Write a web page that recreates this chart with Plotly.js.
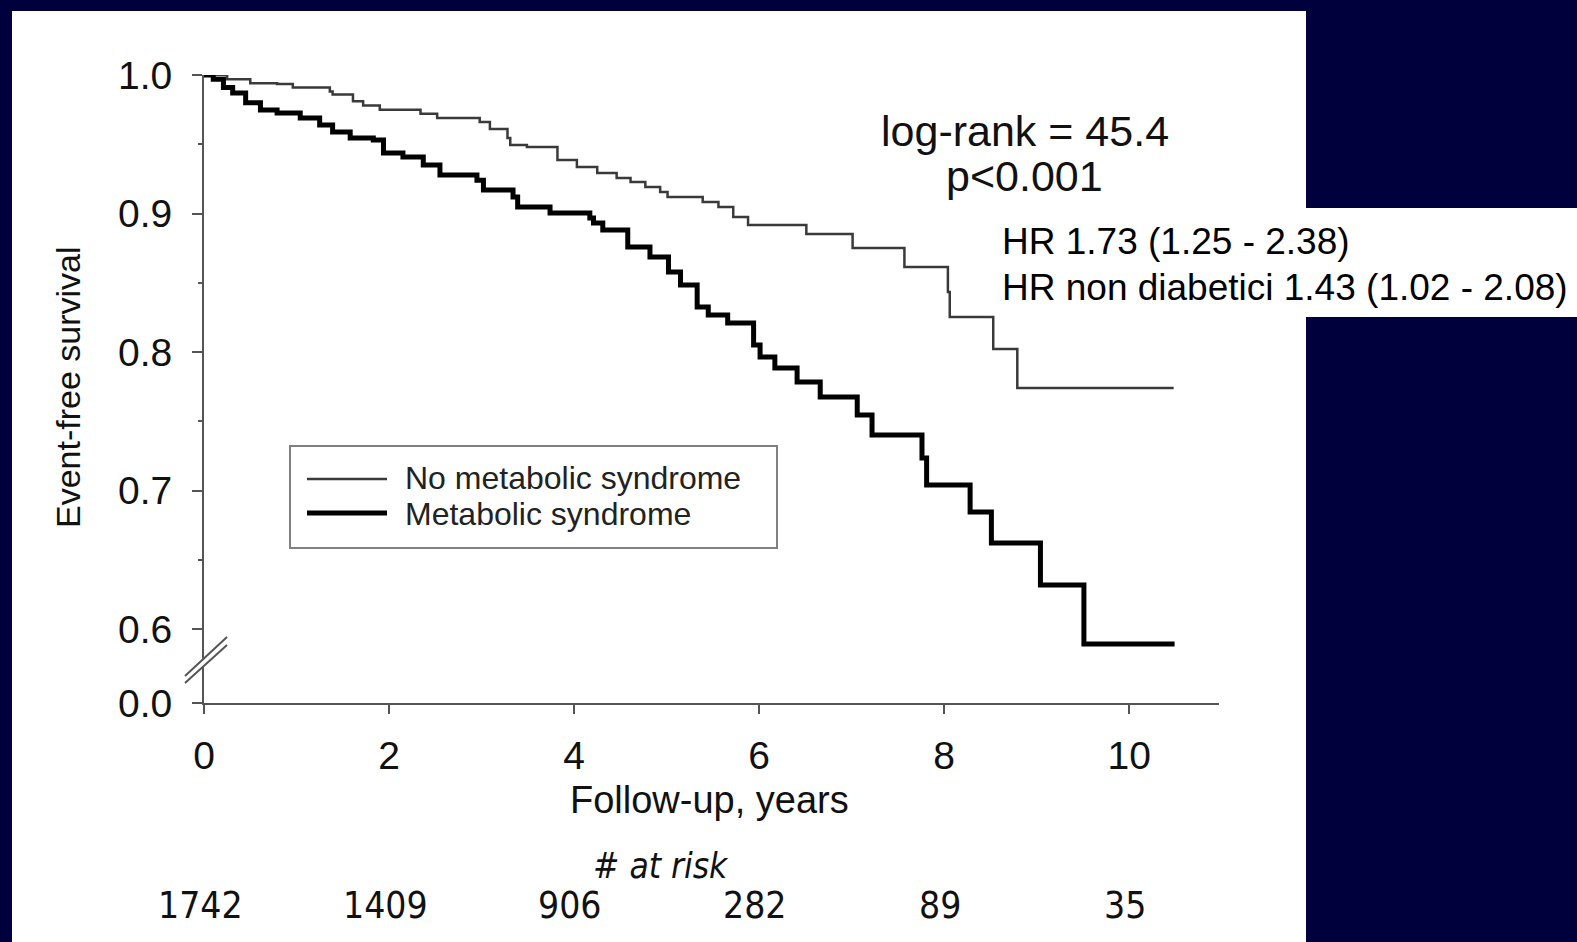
<!DOCTYPE html>
<html>
<head>
<meta charset="utf-8">
<script src="https://cdn.plot.ly/plotly-3.0.1.min.js"></script>
<style>
  html, body { margin: 0; padding: 0; background: #00003c; }
  #chart { width: 1577px; height: 942px; }
</style>
</head>
<body>
<div id="chart"></div>
<script>
// ---- data ----
const noMetsName = "No metabolic syndrome";
const noMetsTime = [0, 0.25, 0.50, 0.79, 0.96, 1.36, 1.39, 1.61, 1.72, 1.90, 2.34, 2.52, 2.98, 3.09, 3.28, 3.31, 3.49, 3.82, 4.03, 4.25, 4.46, 4.61, 4.77, 4.93, 5.01, 5.39, 5.56, 5.72, 5.88, 6.51, 7.01, 7.57, 8.04, 8.06, 8.53, 8.79, 10.48];
const noMetsSurv = [1.0, 0.997, 0.994, 0.9935, 0.991, 0.988, 0.986, 0.981, 0.978, 0.975, 0.972, 0.969, 0.966, 0.961, 0.9545, 0.9495, 0.948, 0.9386, 0.9336, 0.9292, 0.9256, 0.9227, 0.9191, 0.9155, 0.9119, 0.9083, 0.9047, 0.8975, 0.8917, 0.8852, 0.8751, 0.8614, 0.8433, 0.8253, 0.8022, 0.774, 0.774];

const metsName = "Metabolic syndrome";
const metsTime = [0, 0.1, 0.21, 0.31, 0.45, 0.61, 0.79, 1.04, 1.25, 1.39, 1.58, 1.83, 1.94, 2.15, 2.37, 2.55, 2.95, 3.02, 3.34, 3.39, 3.74, 4.17, 4.21, 4.31, 4.58, 4.82, 5.02, 5.15, 5.33, 5.45, 5.66, 5.94, 6.01, 6.17, 6.41, 6.66, 7.06, 7.22, 7.76, 7.81, 8.28, 8.51, 9.04, 9.51, 10.49];
const metsSurv = [1.0, 0.997, 0.991, 0.987, 0.980, 0.9747, 0.9726, 0.969, 0.9639, 0.9588, 0.9545, 0.953, 0.9437, 0.9408, 0.935, 0.9278, 0.924, 0.917, 0.912, 0.9047, 0.9004, 0.8967, 0.8931, 0.8881, 0.8758, 0.8686, 0.8578, 0.8484, 0.8325, 0.8267, 0.8209, 0.8051, 0.7964, 0.7884, 0.7783, 0.7675, 0.7545, 0.7401, 0.7235, 0.7040, 0.6845, 0.6621, 0.6318, 0.5892, 0.5892];

const xTicks = [0, 2, 4, 6, 8, 10];
const yTicksUpper = [0.6, 0.7, 0.8, 0.9, 1.0];
const yTickTextUpper = ["0.6", "0.7", "0.8", "0.9", "1.0"];
const yMinorTicks = [0.65, 0.75, 0.85, 0.95];
const yTicksLower = [0];
const yTickTextLower = ["0.0"];

const atRiskYears = [0, 2, 4, 6, 8, 10];
const atRiskCounts = [1742, 1409, 906, 282, 89, 35];

const xTitle = "Follow-up, years";
const yTitle = "Event-free survival";
const logRankLine1 = "log-rank = 45.4";
const logRankLine2 = "p<0.001";
const hrLine1 = "HR 1.73 (1.25 - 2.38)";
const hrLine2 = "HR non diabetici 1.43 (1.02 - 2.08)";
const atRiskTitle = "# at risk";

// ---- layout helpers (pixel -> paper) ----
const W = 1577, H = 942;
const L = 204, R = 358, T = 75, B = 239;
const PW = W - L - R, PH = H - T - B;
const fx = p => (p - L) / PW;
const fy = p => (H - B - p) / PH;

const FONT = "Liberation Sans, Arial, Helvetica, sans-serif";
const NARROW = "Liberation Sans Narrow, Arial Narrow, DejaVu Sans Condensed, sans-serif";
const AX = "#555555";

const splitY = fy(656.7);

const traces = [
  { x: noMetsTime, y: noMetsSurv, name: noMetsName, type: "scatter", mode: "lines",
    line: { shape: "hv", color: "#3a3a3a", width: 2.5 }, xaxis: "x", yaxis: "y", showlegend: false },
  { x: metsTime, y: metsSurv, name: metsName, type: "scatter", mode: "lines",
    line: { shape: "hv", color: "#000000", width: 5 }, xaxis: "x", yaxis: "y", showlegend: false },
  // empty placeholder so the lower (broken) axis segment exists as a subplot
  { x: [null], y: [null], type: "scatter", mode: "lines", xaxis: "x", yaxis: "y2",
    showlegend: false, hoverinfo: "skip", line: { width: 0 } }
];

const annotations = [
  { text: yTitle, xref: "paper", yref: "paper", x: fx(68), y: fy(387), xanchor: "center", yanchor: "middle",
    textangle: -90, showarrow: false, font: { family: FONT, size: 34, color: "#111" } },
  { text: xTitle, xref: "paper", yref: "paper", x: fx(709), y: fy(800), xanchor: "center", yanchor: "middle",
    showarrow: false, font: { family: FONT, size: 38, color: "#111" } },
  { text: logRankLine1, xref: "paper", yref: "paper", x: fx(1025), y: fy(131), xanchor: "center", yanchor: "middle",
    showarrow: false, font: { family: FONT, size: 43, color: "#111" } },
  { text: logRankLine2, xref: "paper", yref: "paper", x: fx(1024), y: fy(176), xanchor: "center", yanchor: "middle",
    showarrow: false, font: { family: FONT, size: 43, color: "#111" } },
  { text: hrLine1, xref: "paper", yref: "paper", x: fx(1000), y: fy(241), xanchor: "left", yanchor: "middle",
    showarrow: false, font: { family: FONT, size: 37, color: "#000" } },
  { text: hrLine2, xref: "paper", yref: "paper", x: fx(1000), y: fy(287), xanchor: "left", yanchor: "middle",
    showarrow: false, font: { family: FONT, size: 37, color: "#000" } },
  { text: noMetsName, xref: "paper", yref: "paper", x: fx(403), y: fy(478), xanchor: "left", yanchor: "middle",
    showarrow: false, font: { family: FONT, size: 32, color: "#222" } },
  { text: metsName, xref: "paper", yref: "paper", x: fx(403), y: fy(514), xanchor: "left", yanchor: "middle",
    showarrow: false, font: { family: FONT, size: 32, color: "#222" } },
  { text: "<i>" + atRiskTitle + "</i>", xref: "paper", yref: "paper", x: fx(661), y: fy(866), xanchor: "center", yanchor: "middle",
    showarrow: false, font: { family: NARROW, size: 35, color: "#111" } }
];
atRiskYears.forEach((yr, i) => {
  annotations.push({ text: String(atRiskCounts[i]), xref: "x", yref: "paper", x: yr, xshift: -4, y: fy(906),
    xanchor: "center", yanchor: "middle", showarrow: false, font: { family: NARROW, size: 37, color: "#111" } });
});

const shapes = [
  // white slide panel
  { type: "rect", xref: "paper", yref: "paper", x0: fx(12), x1: fx(1306), y0: fy(944), y1: fy(11),
    fillcolor: "#ffffff", line: { width: 0 }, layer: "below" },
  // HR text box
  { type: "rect", xref: "paper", yref: "paper", x0: fx(1000), x1: fx(1580), y0: fy(317), y1: fy(208),
    fillcolor: "#ffffff", line: { width: 0 }, layer: "below" },
  // legend box
  { type: "rect", xref: "paper", yref: "paper", x0: fx(290), x1: fx(777), y0: fy(548), y1: fy(446),
    fillcolor: "#ffffff", line: { color: "#808080", width: 2 }, layer: "above" },
  { type: "line", xref: "paper", yref: "paper", x0: fx(307), x1: fx(387), y0: fy(479), y1: fy(479),
    line: { color: "#3a3a3a", width: 2.5 }, layer: "above" },
  { type: "line", xref: "paper", yref: "paper", x0: fx(307), x1: fx(387), y0: fy(513), y1: fy(513),
    line: { color: "#000000", width: 5 }, layer: "above" },
  // axis break marks
  { type: "line", xref: "paper", yref: "paper", x0: fx(188), x1: fx(226), y0: fy(677), y1: fy(643),
    line: { color: "#ffffff", width: 6 }, layer: "above" },
  { type: "line", xref: "paper", yref: "paper", x0: fx(185), x1: fx(227), y0: fy(676), y1: fy(637),
    line: { color: AX, width: 2 }, layer: "above" },
  { type: "line", xref: "paper", yref: "paper", x0: fx(185), x1: fx(227), y0: fy(683), y1: fy(645),
    line: { color: AX, width: 2 }, layer: "above" }
];

const layout = {
  width: W, height: H,
  margin: { l: L, r: R, t: T, b: B, pad: 0 },
  paper_bgcolor: "#00003c",
  plot_bgcolor: "rgba(0,0,0,0)",
  showlegend: false,
  font: { family: FONT, color: "#111" },
  xaxis: {
    anchor: "y2", range: [0, 10.97], tickmode: "array", tickvals: xTicks, ticktext: xTicks.map(String),
    ticks: "outside", ticklen: 9, tickwidth: 2, tickcolor: AX,
    showline: true, linecolor: AX, linewidth: 2, showgrid: false, zeroline: false,
    tickfont: { family: FONT, size: 39, color: "#111" }, ticklabelstandoff: 8
  },
  yaxis: {
    anchor: "x", domain: [splitY, 1], range: [0.58, 1.0], tickmode: "array",
    tickvals: yTicksUpper, ticktext: yTickTextUpper,
    ticks: "outside", ticklen: 10, tickwidth: 2, tickcolor: AX,
    minor: { tickmode: "array", tickvals: yMinorTicks, ticks: "outside", ticklen: 4, tickwidth: 2, tickcolor: AX, showgrid: false },
    showline: true, linecolor: AX, linewidth: 2, showgrid: false, zeroline: false,
    tickfont: { family: FONT, size: 39, color: "#111" }, ticklabelstandoff: 12
  },
  yaxis2: {
    anchor: "x", domain: [0, splitY], range: [0, 0.05], tickmode: "array",
    tickvals: yTicksLower, ticktext: yTickTextLower,
    ticks: "outside", ticklen: 10, tickwidth: 2, tickcolor: AX,
    showline: true, linecolor: AX, linewidth: 2, showgrid: false, zeroline: false,
    tickfont: { family: FONT, size: 39, color: "#111" }, ticklabelstandoff: 12
  },
  shapes: shapes,
  annotations: annotations
};

Plotly.newPlot("chart", traces, layout, { displayModeBar: false, staticPlot: true });
</script>
</body>
</html>
